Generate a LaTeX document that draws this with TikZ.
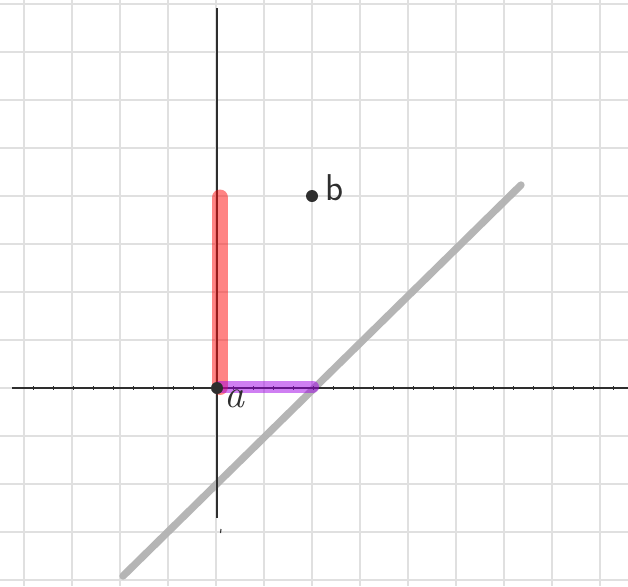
\documentclass[tikz,border=0pt]{standalone}
\usepackage{fontspec}
\definecolor{purplestroke}{RGB}{160,0,230}
\definecolor{redstroke}{RGB}{255,10,10}
\begin{document}
\begin{tikzpicture}[x=0.75pt,y=-0.75pt,
  gridline/.style={draw=black!12,line width=1.5pt},
  axisline/.style={draw=black!82,line width=1.5pt},
  tickline/.style={draw=black!82,line width=0.7pt},
  thick stroke/.style={line cap=round,opacity=0.5},
  dotstyle/.style={circle,fill=black!82,inner sep=0pt,minimum size=9pt},
  lbl/.style={text=black!82,inner sep=0pt}]
\useasboundingbox (0,0) rectangle (628,586);
\fill[white] (0,0) rectangle (628,586);
% grid
\foreach \x in {24,72,...,600} \draw[gridline] (\x,0) -- (\x,586);
\foreach \y in {4,52,...,580} \draw[gridline] (0,\y) -- (628,\y);
% gray line
\coordinate (g1) at (123,576);
\coordinate (g2) at (521,185);
\draw[black!30,line width=5.5pt,line cap=round,opacity=0.95] (g1) -- (g2);
% axes
\draw[axisline] (217,8) -- (217,518);
\draw[axisline] (12,388) -- (628,388);
\foreach \x in {33,53,...,613} \draw[tickline] (\x,386) -- (\x,390);
\draw[black!80,line width=0.8pt] (221,529) -- (220.5,533);
% coloured segments
\coordinate (o) at (217,388);
\coordinate (r0) at (220,387);
\coordinate (r) at (220,197.5);
\coordinate (p) at (313,386.7);
\coordinate (p0) at (220,386.7);
\draw[thick stroke,draw=redstroke,line width=12pt] (r0) -- (r);
\draw[thick stroke,draw=purplestroke,line width=9pt] (p0) -- (p);
\node[dotstyle] (a) at (o) {};
\node[dotstyle] (b) at (312,196) {};
\node[lbl,font=\fontsize{30}{30}\selectfont\itshape] (la) at (234,399) {a};
\node[lbl,font=\fontsize{28}{28}\selectfont\sffamily] (lb) at (335,188) {b};
\end{tikzpicture}
\end{document}
